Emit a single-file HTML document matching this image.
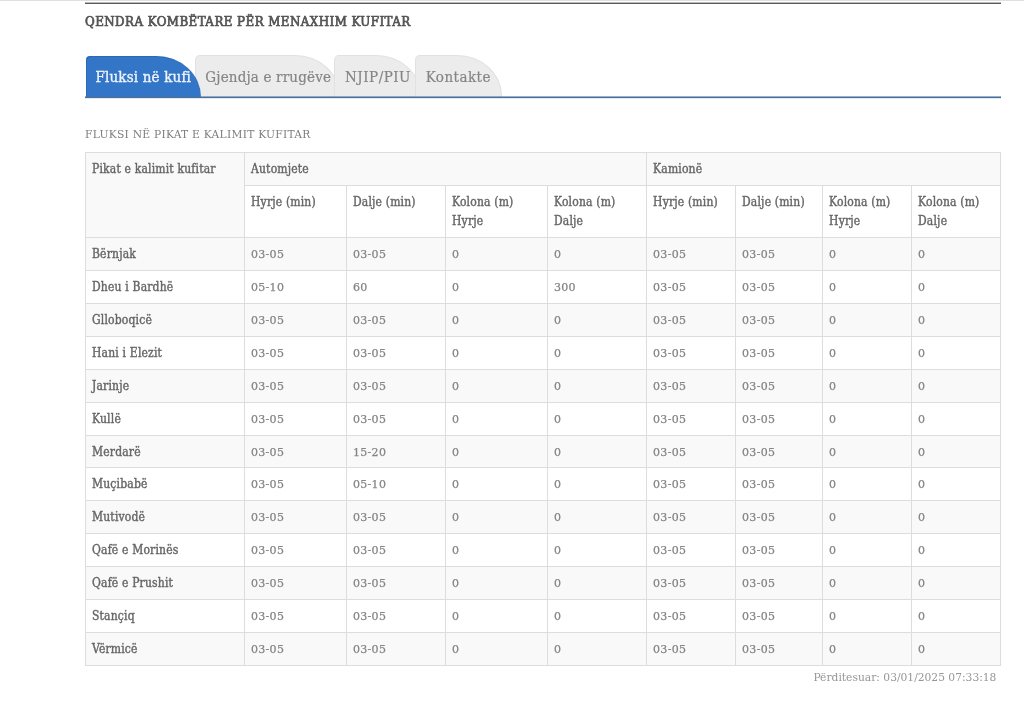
<!DOCTYPE html>
<html lang="sq">
<head>
<meta charset="utf-8">
<title>Qendra Kombëtare për Menaxhim Kufitar</title>
<style>
*{box-sizing:border-box;margin:0;padding:0}
html,body{width:1024px;height:717px;overflow:hidden;background:#fff}
body{font-family:"DejaVu Serif Condensed","Liberation Serif",serif;color:#888;position:relative}
.topline{position:absolute;left:0;top:0;width:1024px;height:1px;background:#dfdfdf}
.wrap{position:absolute;left:85px;top:0;width:916px;height:717px}
.rule{position:absolute;left:0;top:2px;width:916px;height:2px;background:linear-gradient(#b8b8b8 0,#b8b8b8 50%,#5c5c5c 50%,#5c5c5c 100%)}
.title{position:absolute;left:0;top:11.6px;font-size:13.2px;line-height:20px;font-weight:normal;color:#555;white-space:nowrap;letter-spacing:0.45px;-webkit-text-stroke:0.7px #555}
.tabs{position:absolute;left:0;top:0;width:916px;height:98px;list-style:none;white-space:nowrap}
.tab{position:absolute;top:55px;height:42px;background:#ececec;border:1px solid #e1e1e1;border-bottom:none;border-radius:5px 45px 0 0 / 5px 41px 0 0;font-size:15px;line-height:43px;color:#858585;text-align:center;-webkit-text-stroke:0.2px #858585}
.tab a{display:block}
.tab.active{top:56px;height:41px;line-height:43px;background:#3375c6;border:none;box-shadow:inset 1px 1px 0 rgba(30,80,150,0.35);border-radius:4px 45px 0 0 / 4px 41px 0 0;color:#eef4fc;z-index:5;-webkit-text-stroke:0.35px #eef4fc}
.t1{left:1px;width:114.5px;letter-spacing:0.17px}
.t2{left:110px;width:145px;z-index:2;letter-spacing:0.17px;padding-left:1.5px}
.t3{left:249px;width:86.5px;z-index:3;letter-spacing:0.5px;padding-left:1.5px}
.t4{left:330px;width:86.5px;z-index:4;letter-spacing:0.45px}
.tabline{position:absolute;left:0;top:96px;width:916px;height:3px;z-index:6;background:linear-gradient(rgba(71,112,160,0.55) 0,rgba(71,112,160,0.55) 1px,#47709f 1px,#47709f 2px,rgba(71,112,160,0.15) 2px,rgba(71,112,160,0.15) 3px)}
.sub{position:absolute;left:0;top:125px;font-size:11.9px;line-height:18px;font-weight:normal;color:#7d7d7d;white-space:nowrap;letter-spacing:0.26px}
.grid{position:absolute;left:0;top:152px;width:915px;border-collapse:collapse;table-layout:fixed;font-size:12px;line-height:19px}
.grid th,.grid td{border:1px solid #ddd;padding:7px 6px 6px 6px;text-align:left;vertical-align:top;font-weight:normal;color:#8a8a8a;white-space:nowrap;overflow:hidden}
.grid th{font-weight:normal;font-size:12px;color:#666;letter-spacing:0.18px;-webkit-text-stroke:0.38px #666}
.grid tr.h1{height:33px}
.grid tr.h2{height:52px}
.grid tbody tr{height:33px}
.grid tr.h1 th{background:#f9f9f9}
.grid tr.h2 th{background:#fff}
.grid tr.odd th,.grid tr.odd td{background:#f9f9f9}
.grid tr.even th,.grid tr.even td{background:#fff}
.stamp{position:absolute;right:4.6px;top:668px;font-size:11.9px;line-height:18px;color:#969696;white-space:nowrap;letter-spacing:0}
.grid td{padding-left:6px;-webkit-text-stroke:0.25px #858585;font-family:"DejaVu Serif","Liberation Serif",serif;font-size:11px;letter-spacing:0.3px;color:#858585}
.grid tbody tr.short{height:32px}
.grid tbody tr.short th,.grid tbody tr.short td{padding-bottom:5px}

</style>
</head>
<body>
<div class="topline"></div>
<div class="wrap">
<div class="rule"></div>
<h1 class="title">QENDRA KOMBËTARE PËR MENAXHIM KUFITAR</h1>
<ul class="tabs"><li class="tab active t1"><a>Fluksi në kufi</a></li><li class="tab t2"><a>Gjendja e rrugëve</a></li><li class="tab t3"><a>NJIP/PIU</a></li><li class="tab t4"><a>Kontakte</a></li></ul>
<div class="tabline"></div>
<h2 class="sub">FLUKSI NË PIKAT E KALIMIT KUFITAR</h2>
<table class="grid">
<colgroup><col style="width:159px"><col style="width:102px"><col style="width:99px"><col style="width:102px"><col style="width:99px"><col style="width:89px"><col style="width:87px"><col style="width:89px"><col style="width:89px"></colgroup>
<thead>
<tr class="h1"><th rowspan="2" class="c0">Pikat e kalimit kufitar</th><th colspan="4">Automjete</th><th colspan="4">Kamionë</th></tr>
<tr class="h2"><th>Hyrje (min)</th><th>Dalje (min)</th><th>Kolona (m)<br>Hyrje</th><th>Kolona (m)<br>Dalje</th><th>Hyrje (min)</th><th>Dalje (min)</th><th>Kolona (m)<br>Hyrje</th><th>Kolona (m)<br>Dalje</th></tr>
</thead><tbody>
<tr class="odd"><th>Bërnjak</th><td>03-05</td><td>03-05</td><td>0</td><td>0</td><td>03-05</td><td>03-05</td><td>0</td><td>0</td></tr>
<tr class="even"><th>Dheu i Bardhë</th><td>05-10</td><td>60</td><td>0</td><td>300</td><td>03-05</td><td>03-05</td><td>0</td><td>0</td></tr>
<tr class="odd"><th>Glloboqicë</th><td>03-05</td><td>03-05</td><td>0</td><td>0</td><td>03-05</td><td>03-05</td><td>0</td><td>0</td></tr>
<tr class="even"><th>Hani i Elezit</th><td>03-05</td><td>03-05</td><td>0</td><td>0</td><td>03-05</td><td>03-05</td><td>0</td><td>0</td></tr>
<tr class="odd"><th>Jarinje</th><td>03-05</td><td>03-05</td><td>0</td><td>0</td><td>03-05</td><td>03-05</td><td>0</td><td>0</td></tr>
<tr class="even"><th>Kullë</th><td>03-05</td><td>03-05</td><td>0</td><td>0</td><td>03-05</td><td>03-05</td><td>0</td><td>0</td></tr>
<tr class="odd short"><th>Merdarë</th><td>03-05</td><td>15-20</td><td>0</td><td>0</td><td>03-05</td><td>03-05</td><td>0</td><td>0</td></tr>
<tr class="even"><th>Muçibabë</th><td>03-05</td><td>05-10</td><td>0</td><td>0</td><td>03-05</td><td>03-05</td><td>0</td><td>0</td></tr>
<tr class="odd"><th>Mutivodë</th><td>03-05</td><td>03-05</td><td>0</td><td>0</td><td>03-05</td><td>03-05</td><td>0</td><td>0</td></tr>
<tr class="even"><th>Qafë e Morinës</th><td>03-05</td><td>03-05</td><td>0</td><td>0</td><td>03-05</td><td>03-05</td><td>0</td><td>0</td></tr>
<tr class="odd"><th>Qafë e Prushit</th><td>03-05</td><td>03-05</td><td>0</td><td>0</td><td>03-05</td><td>03-05</td><td>0</td><td>0</td></tr>
<tr class="even"><th>Stançiq</th><td>03-05</td><td>03-05</td><td>0</td><td>0</td><td>03-05</td><td>03-05</td><td>0</td><td>0</td></tr>
<tr class="odd"><th>Vërmicë</th><td>03-05</td><td>03-05</td><td>0</td><td>0</td><td>03-05</td><td>03-05</td><td>0</td><td>0</td></tr>
</tbody></table>
<div class="stamp">Përditesuar: 03/01/2025 07:33:18</div>
</div>
</body>
</html>
